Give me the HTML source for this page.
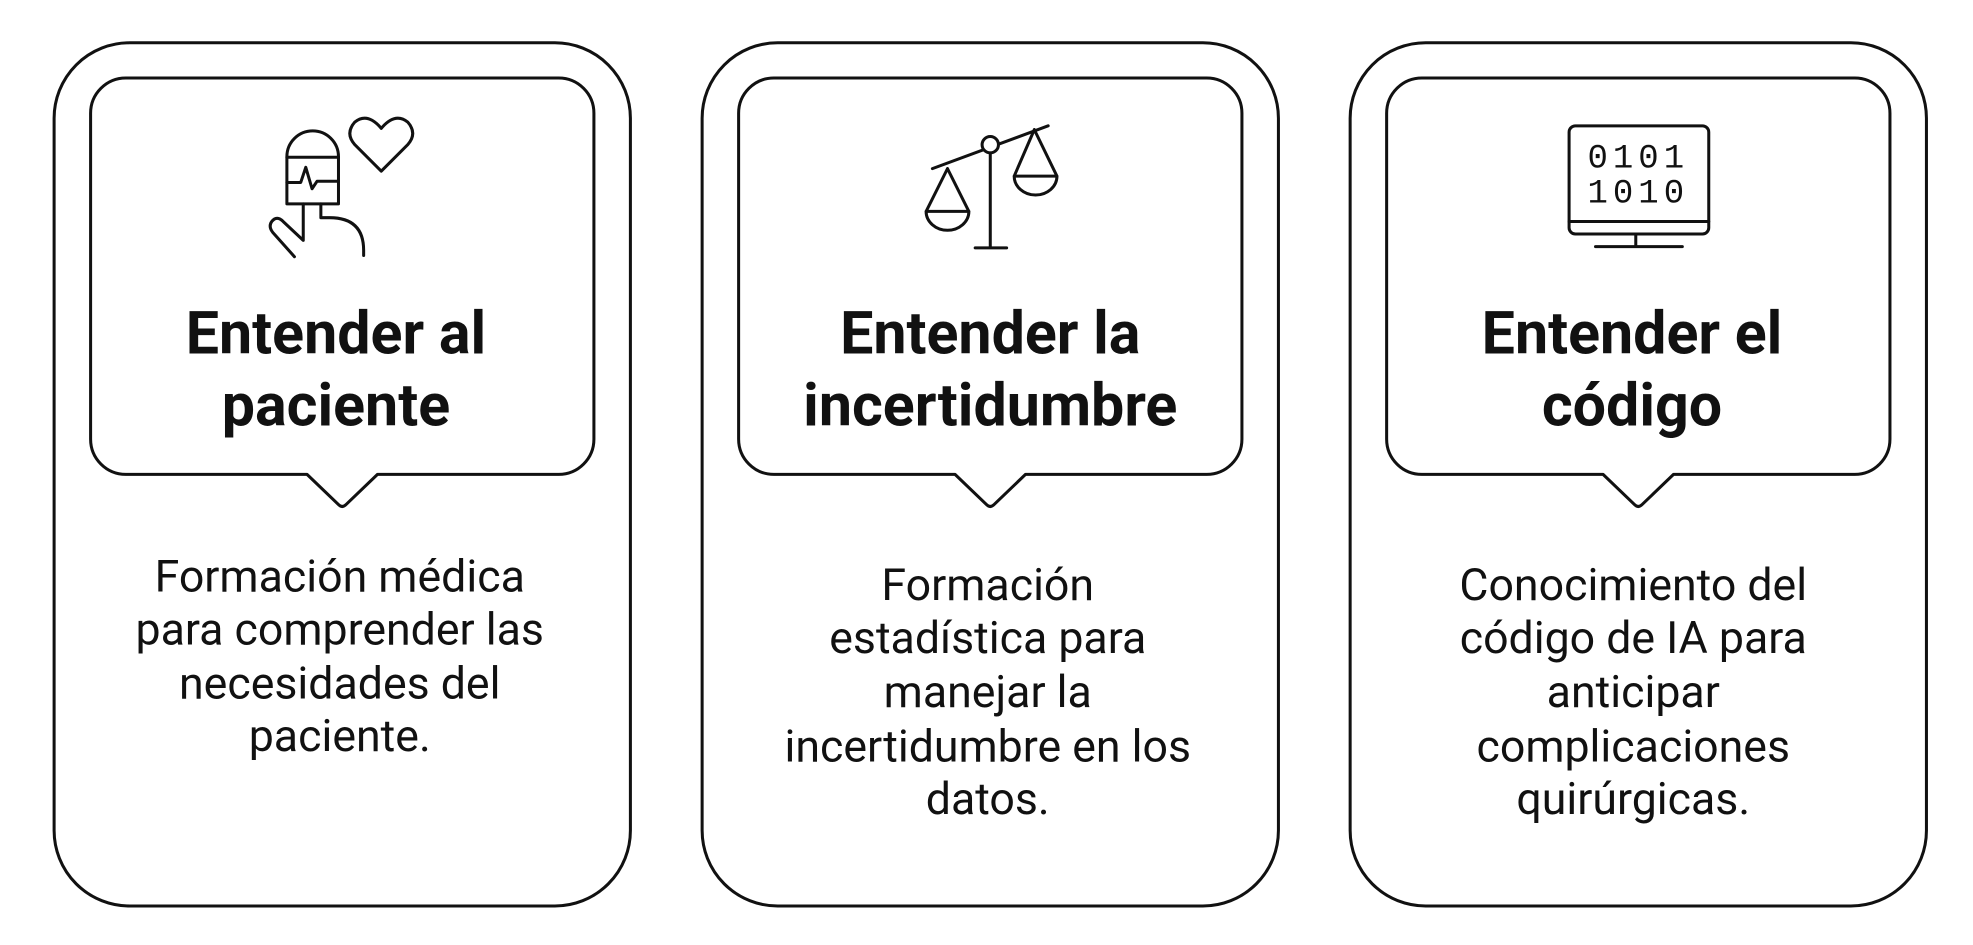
<!DOCTYPE html>
<html><head><meta charset="utf-8"><style>
html,body{margin:0;padding:0;background:#fff;width:1973px;height:945px;overflow:hidden}
svg{display:block}
text{font-family:"Roboto","Liberation Sans",sans-serif;fill:#111}
.t{font-size:47px;font-weight:bold;text-anchor:middle}
.b{font-size:35.5px;text-anchor:middle}
</style></head><body>
<svg width="1973" height="945" viewBox="0 0 1568 751" preserveAspectRatio="none" xmlns="http://www.w3.org/2000/svg">
<g fill="none" stroke="#111" stroke-width="2.4" stroke-linejoin="round" stroke-linecap="round">
<rect x="43" y="34" width="458" height="686" rx="60"/>
<rect x="558" y="34" width="458" height="686" rx="60"/>
<rect x="1073" y="34" width="458" height="686" rx="60"/>
<path d="M100 62 H444 A28 28 0 0 1 472 90 V349 A28 28 0 0 1 444 377 H300 L275 401 Q272 404 269 401 L244 377 H100 A28 28 0 0 1 72 349 V90 A28 28 0 0 1 100 62 Z"/>
<path d="M615 62 H959 A28 28 0 0 1 987 90 V349 A28 28 0 0 1 959 377 H815 L790 401 Q787 404 784 401 L759 377 H615 A28 28 0 0 1 587 349 V90 A28 28 0 0 1 615 62 Z"/>
<path d="M1130 62 H1474 A28 28 0 0 1 1502 90 V349 A28 28 0 0 1 1474 377 H1330 L1305 401 Q1302 404 1299 401 L1274 377 H1130 A28 28 0 0 1 1102 349 V90 A28 28 0 0 1 1130 62 Z"/>
<path d="M228 162 V124.5 A20.5 20.5 0 0 1 269 124.5 V162 Z"/>
<path d="M228 125 H269"/>
<path d="M228 145 H239 L243 133 L248 150 L252 144 H269"/>
<path d="M241 162 V191 L225 176 Q220 171 216 176 Q213 180 217 185 L234 204"/>
<path d="M255 162 V173 H262 Q289 173 289 199 V203"/>
<path d="M303 136 L282 115 Q274 106 282 97 Q292 89 303 102 Q314 89 324 97 Q332 106 324 115 Z"/>
<path d="M741 134 L833 100"/>
<circle cx="787" cy="115" r="6.5" fill="#fff"/>
<path d="M787 121.5 V197 M775 197 H800"/>
<path d="M753 134 L736 168 M753 134 L770 168 M736 168 H770 A17 15 0 0 1 736 168"/>
<path d="M822 103 L806 140 M822 103 L840 140 M806 140 H840 A17 15 0 0 1 806 140"/>
<rect x="1247" y="100" width="111" height="86" rx="5"/>
<path d="M1247 176 H1358 M1300 186 V196 M1268 196 H1337"/>
</g>
<text x="1302" y="133" style="font-family:'Liberation Mono',monospace;font-size:27px" text-anchor="middle" letter-spacing="4">0101</text>
<text x="1302" y="161" style="font-family:'Liberation Mono',monospace;font-size:27px" text-anchor="middle" letter-spacing="4">1010</text>
<text class="t" x="267" y="281">Entender al</text>
<text class="t" x="267" y="338">paciente</text>
<text class="t" x="787" y="281">Entender la</text>
<text class="t" x="787" y="338">incertidumbre</text>
<text class="t" x="1297" y="281">Entender el</text>
<text class="t" x="1297" y="338">código</text>
<text class="b" x="270" y="470">Formación médica</text>
<text class="b" x="270" y="512">para comprender las</text>
<text class="b" x="270" y="555">necesidades del</text>
<text class="b" x="270" y="597">paciente.</text>
<text class="b" x="785" y="477">Formación</text>
<text class="b" x="785" y="519">estadística para</text>
<text class="b" x="785" y="562">manejar la</text>
<text class="b" x="785" y="605">incertidumbre en los</text>
<text class="b" x="785" y="647">datos.</text>
<text class="b" x="1298" y="477">Conocimiento del</text>
<text class="b" x="1298" y="519">código de IA para</text>
<text class="b" x="1298" y="562">anticipar</text>
<text class="b" x="1298" y="605">complicaciones</text>
<text class="b" x="1298" y="647">quirúrgicas.</text>
</svg>
</body></html>
